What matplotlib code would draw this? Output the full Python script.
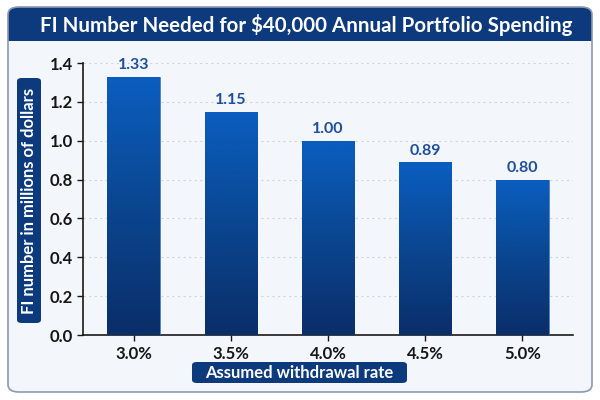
import numpy as np
import matplotlib
matplotlib.use("Agg")
import matplotlib.pyplot as plt
from matplotlib.patches import FancyBboxPatch, Rectangle
from matplotlib.colors import LinearSegmentedColormap

plt.rcParams["font.family"] = ["Lato", "DejaVu Sans"]

rates = ["3.0%", "3.5%", "4.0%", "4.5%", "5.0%"]
fi_millions = [1.33, 1.15, 1.00, 0.89, 0.80]
value_labels = ["1.33", "1.15", "1.00", "0.89", "0.80"]
y_ticks = [0.0, 0.2, 0.4, 0.6, 0.8, 1.0, 1.2, 1.4]

title = "FI Number Needed for $40,000 Annual Portfolio Spending"
x_label = "Assumed withdrawal rate"
y_label = "FI number in millions of dollars"

navy = "#0c3a7c"
W, H = 600, 400


def fx(px):
    return px / W


def fy(py):
    return 1 - py / H


def pill(x0, y0, x1, y1, r=0.008):
    # rounded box given in pixel coords (top-left origin)
    p = FancyBboxPatch((fx(x0), fy(y1)), fx(x1 - x0), (y1 - y0) / H,
                       boxstyle=f"round,pad=0,rounding_size={r}",
                       transform=fig.transFigure, facecolor=navy,
                       edgecolor="none", zorder=-1)
    fig.patches.append(p)


fig = plt.figure(figsize=(6, 4), dpi=100)
fig.patch.set_facecolor("white")

# card behind everything
card = FancyBboxPatch((fx(8), fy(392)), fx(584), 385 / H,
                      boxstyle="round,pad=0,rounding_size=0.018",
                      transform=fig.transFigure, facecolor="#f3f6fb",
                      edgecolor="none", zorder=-3)
fig.patches.append(card)

# title band (rounded top, square bottom)
band = FancyBboxPatch((fx(8), fy(41)), fx(584), 34 / H,
                      boxstyle="round,pad=0,rounding_size=0.018",
                      transform=fig.transFigure, facecolor=navy,
                      edgecolor="none", zorder=-2)
fig.patches.append(band)
fig.patches.append(Rectangle((fx(8), fy(41)), fx(584), 14 / H,
                             transform=fig.transFigure, facecolor=navy,
                             edgecolor="none", zorder=-2))
border = FancyBboxPatch((fx(8), fy(392)), fx(584), 385 / H,
                        boxstyle="round,pad=0,rounding_size=0.018",
                        transform=fig.transFigure, facecolor="none",
                        edgecolor="#8e9ab2", linewidth=1.2, zorder=-1)
fig.patches.append(border)

fig.text(fx(306), fy(25), title, color="white", fontsize=14.8,
         fontweight="bold", ha="center", va="center")

ax = fig.add_axes([fx(83), fy(335), fx(490), (335 - 63) / H])
ax.set_facecolor("none")
ax.set_zorder(2)

x = np.arange(len(rates))
bars = ax.bar(x, fi_millions, width=0.54, color="#0b4a9c",
              edgecolor="#3a6fb8", linewidth=0.4, zorder=3)

grad = LinearSegmentedColormap.from_list("bar", ["#0b2e69", "#0a4690", "#0a5ec0"])
g = np.linspace(0, 1, 256).reshape(-1, 1)
for b in bars:
    x0, y0 = b.get_x(), b.get_y()
    im = ax.imshow(g, cmap=grad, origin="lower", aspect="auto",
                   extent=[x0, x0 + b.get_width(), y0, y0 + b.get_height()],
                   zorder=3.5)
    im.set_clip_path(b)

for xi, v, lab in zip(x, fi_millions, value_labels):
    ax.text(xi, v + 0.022, lab, ha="center", va="bottom", fontsize=11.5,
            fontweight="bold", color="#1d4f9e", zorder=5)

ax.set_xlim(-0.52, 4.52)
ax.set_ylim(0, 1.4)
ax.set_xticks(x)
ax.set_xticklabels(rates)
ax.set_yticks(y_ticks)
ax.set_yticklabels([f"{t:.1f}" for t in y_ticks])
ax.tick_params(axis="both", labelsize=12, colors="#161616", length=4,
               width=1, pad=3)
for lab in ax.get_xticklabels() + ax.get_yticklabels():
    lab.set_fontweight("bold")
ax.tick_params(axis="x", pad=4)

ax.grid(axis="y", linestyle=(0, (2, 3)), color="#cfd5df", linewidth=0.8, zorder=0)
ax.set_axisbelow(True)
for s in ["top", "right"]:
    ax.spines[s].set_visible(False)
for s in ["left", "bottom"]:
    ax.spines[s].set_color("#1a1a1a")
    ax.spines[s].set_linewidth(1.2)

# x label in a box
pill(192, 362, 407, 383)
fig.text(fx(299.5), fy(372.5), x_label, color="white", fontsize=12,
         fontweight="bold", ha="center", va="center")

# y label in a box
pill(17, 78, 41, 323)
fig.text(fx(29), fy(200.5), y_label, color="white", fontsize=12,
         fontweight="bold", ha="center", va="center", rotation=90)

fig.savefig("out.png", dpi=100)
